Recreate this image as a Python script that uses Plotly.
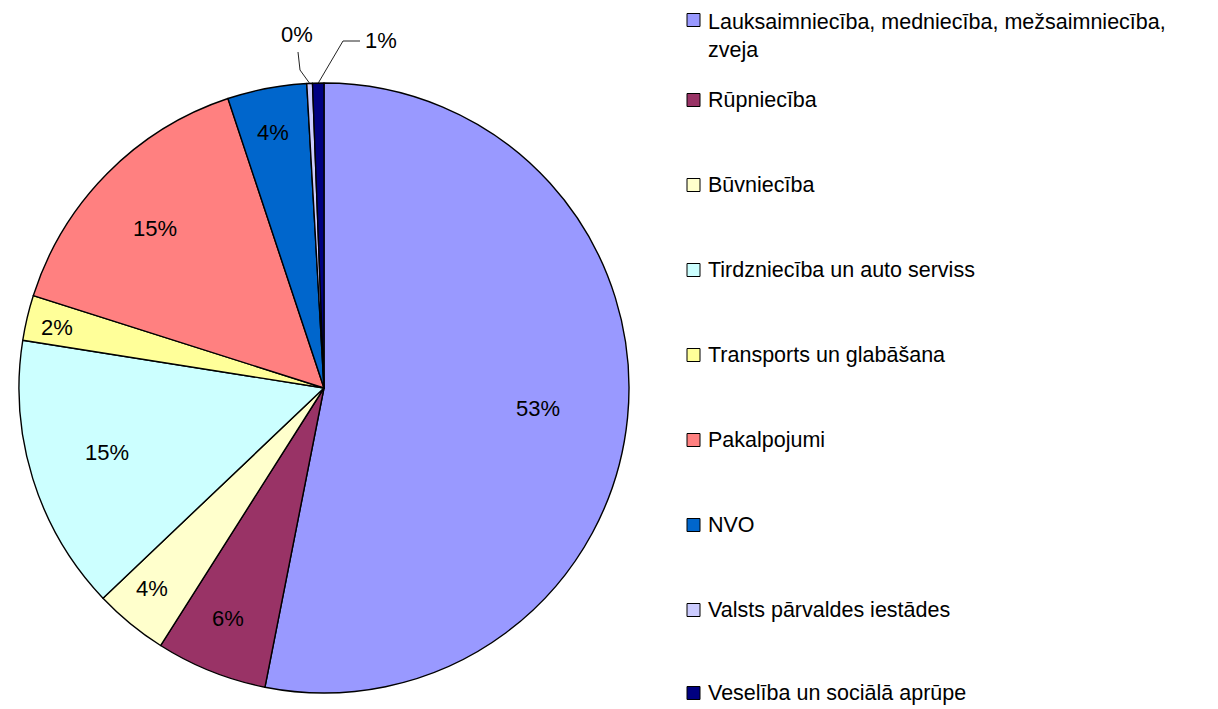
import math
import plotly.graph_objects as go

categories = [
    "Lauksaimniecība, medniecība, mežsaimniecība, zveja",
    "Rūpniecība",
    "Būvniecība",
    "Tirdzniecība un auto serviss",
    "Transports un glabāšana",
    "Pakalpojumi",
    "NVO",
    "Valsts pārvaldes iestādes",
    "Veselība un sociālā aprūpe",
]
legend_labels = [
    "Lauksaimniecība, medniecība, mežsaimniecība,<br>zveja",
    "Rūpniecība",
    "Būvniecība",
    "Tirdzniecība un auto serviss",
    "Transports un glabāšana",
    "Pakalpojumi",
    "NVO",
    "Valsts pārvaldes iestādes",
    "Veselība un sociālā aprūpe",
]
values = [53.1, 5.9, 3.9, 14.6, 2.4, 15.0, 4.2, 0.3, 0.6]
colors = ["#9999FF", "#993366", "#FFFFCC", "#CCFFFF", "#FFFF99",
          "#FF8080", "#0066CC", "#CCCCFF", "#000080"]

# page body has an 8px margin -> work in reference pixel coords, shift by 8
OFF = 8
W, H = 1210, 701
def px(x):
    return (x - OFF) / W
def py(y):
    return 1 - (y - OFF) / H

cx, cy, R = 324, 388, 305
FONT = "Liberation Sans, Arial"

fig = go.Figure(go.Pie(
    labels=categories,
    values=values,
    sort=False,
    direction="clockwise",
    rotation=0,
    marker=dict(colors=colors, line=dict(color="black", width=1.4)),
    textinfo="none",
    domain=dict(x=[px(cx - R), px(cx + R)], y=[py(cy + R), py(cy - R)]),
    showlegend=False,
    hoverinfo="label+percent",
))

# data labels, positioned along each slice's bisector
total = sum(values)
label_frac = [0.69, 0.83, 0.87, 0.73, 0.88, 0.76, 0.87]
Rx, Ry = 312, 299
cum = 0.0
mids = []
for v in values:
    mids.append((cum + v / 2) / total * 2 * math.pi)
    cum += v
pct = [f"{v / total:.0%}" for v in values]
for i, f in enumerate(label_frac):
    a = mids[i]
    x = cx + f * Rx * math.sin(a)
    y = cy - f * Ry * math.cos(a)
    fig.add_annotation(xref="paper", yref="paper", x=px(x), y=py(y),
                       xanchor="center", yanchor="middle", showarrow=False,
                       text=pct[i], font=dict(family=FONT, size=22, color="black"))

# small slices: outside labels with leader lines
for i, (lx, ly, path_pts) in zip(
        [7, 8],
        [(297, 35, [(298, 52), (300, 70)]),
         (381, 41, [(360, 41), (343, 41)])]):
    a = mids[i]
    ex = cx + R * math.sin(a)
    ey = cy - R * math.cos(a)
    pts = path_pts + [(ex, ey)]
    d = "M " + " L ".join(f"{px(x)},{py(y)}" for x, y in pts)
    fig.add_shape(type="path", xref="paper", yref="paper", path=d,
                  line=dict(color="#222222", width=1))
    fig.add_annotation(xref="paper", yref="paper", x=px(lx), y=py(ly),
                       xanchor="center", yanchor="middle", showarrow=False,
                       text=pct[i], font=dict(family=FONT, size=22, color="black"))

# manual legend
row_y = [16, 100, 185, 270, 355, 440, 525, 610, 693]
for lab, col, yy in zip(legend_labels, colors, row_y):
    two = "<br>" in lab
    fig.add_shape(type="rect", xref="paper", yref="paper",
                  x0=px(687), x1=px(700),
                  y0=py(yy + 6.5 + (4 if two else 0)), y1=py(yy - 6.5 + (4 if two else 0)),
                  fillcolor=col, line=dict(color="black", width=1))
    fig.add_annotation(xref="paper", yref="paper", x=px(706), y=py(yy),
                       xanchor="left", yanchor="top" if two else "middle",
                       yshift=8 if two else 0,
                       text=lab, showarrow=False, align="left",
                       font=dict(family=FONT, size=21.5, color="black"))

fig.update_layout(
    width=W, height=H,
    margin=dict(l=0, r=0, t=0, b=0),
    paper_bgcolor="white",
    plot_bgcolor="white",
)
fig.write_html("out.html")
